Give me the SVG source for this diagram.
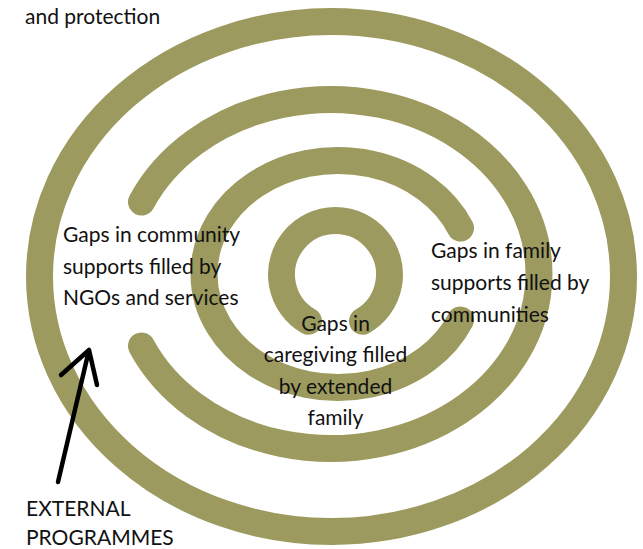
<svg xmlns="http://www.w3.org/2000/svg" width="643" height="549" viewBox="0 0 643 549">
<style>
.ring{fill:none;stroke:#9c9a5e;stroke-width:27;stroke-linecap:round}
.t{font-family:Lato,"Open Sans","DejaVu Sans",sans-serif;font-size:21px;fill:#111}
.c{text-anchor:middle}
.arrow{fill:none;stroke:#000;stroke-width:4.5;stroke-linecap:round;stroke-linejoin:round}
</style>
<rect width="643" height="549" fill="#fff"/>
<g id="ring-outer"><ellipse class="ring" cx="331.5" cy="276.5" rx="292" ry="255"/></g>
<g id="ring-community"><path class="ring" d="M141.5 202 A208 174.5 0 1 1 141.5 346"/></g>
<g id="ring-family"><path class="ring" d="M460.5 228 A134 113.5 0 1 0 460.5 320"/></g>
<g id="ring-extended"><path class="ring" d="M308.5 321.3 A54 54 0 1 1 362.5 321.3"/></g>
<g id="label-top"><text class="t" x="25" y="24">and protection</text></g>
<g id="label-ngos"><text class="t" x="63" y="242">Gaps in community</text><text class="t" x="63" y="274">supports filled by</text><text class="t" x="63" y="305">NGOs and services</text></g>
<g id="label-communities"><text class="t" x="431" y="258">Gaps in family</text><text class="t" x="431" y="290">supports filled by</text><text class="t" x="431" y="322">communities</text></g>
<g id="label-extended"><text class="t c" x="335.5" y="331">Gaps in</text><text class="t c" x="335.5" y="362">caregiving filled</text><text class="t c" x="335.5" y="394">by extended</text><text class="t c" x="335.5" y="425">family</text></g>
<g id="label-external"><text class="t" x="26" y="516">EXTERNAL</text><text class="t" x="26" y="545">PROGRAMMES</text></g>
<g id="connectors"><path class="arrow" d="M58 482 L89 350 M61 375 L89 350 L97 385"/></g>
</svg>
